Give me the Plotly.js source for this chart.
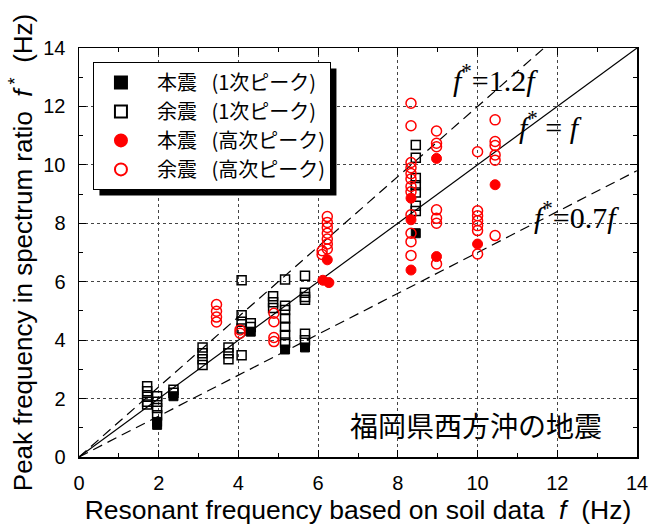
<!DOCTYPE html>
<html>
<head>
<meta charset="utf-8">
<script src="https://cdn.plot.ly/plotly-3.0.1.min.js"></script>
<style>html,body{margin:0;padding:0;background:#fff;}#chart{width:649px;height:530px;}</style>
</head>
<body>
<div id="chart"></div>
<script>
// 本震 (1次ピーク) — filled squares
const mainFirstX = [1.96, 1.96, 2.37, 4.31, 5.17, 5.67, 8.45];
const mainFirstY = [1.10, 1.20, 2.08, 4.29, 3.68, 3.75, 7.66];
// 余震 (1次ピーク) — open squares
const afterFirstX = [1.71, 1.71, 1.71, 1.71, 1.71,
  1.96, 1.96, 1.96, 1.96,
  2.37, 2.37,
  3.10, 3.10, 3.10, 3.10,
  3.75, 3.75, 3.75,
  4.08, 4.08, 4.08, 4.08, 4.08,
  4.31, 4.31,
  4.87, 4.87, 4.87,
  5.17, 5.17, 5.17, 5.17, 5.17, 5.17, 5.17,
  5.67, 5.67, 5.67, 5.67, 5.67, 5.67,
  8.45, 8.45, 8.45, 8.45, 8.45, 8.45, 8.45];
const afterFirstY = [2.42, 2.25, 2.06, 1.89, 1.80,
  2.08, 1.89, 1.68, 1.43,
  2.30, 2.20,
  3.75, 3.55, 3.35, 3.15,
  3.75, 3.55, 3.35,
  6.05, 4.85, 4.63, 4.40, 3.48,
  4.58, 4.45,
  5.50, 5.30, 5.10,
  6.08, 5.18, 5.03, 4.74, 4.46, 4.18, 3.92,
  6.20, 5.62, 5.48, 5.38, 4.22, 4.00,
  10.68, 10.24, 9.55, 9.30, 9.05, 8.60, 8.42];
// 本震 (高次ピーク) — filled circles
const mainHighX = [6.12, 6.27, 6.23, 8.33, 8.33, 8.33, 8.97, 8.97, 10.0, 10.44];
const mainHighY = [6.05, 5.97, 6.75, 8.86, 8.12, 6.40, 10.22, 6.86, 7.29, 9.32];
// 余震 (高次ピーク) — open circles
const afterHighX = [3.45, 3.45, 3.45, 3.45,
  4.04, 4.04,
  4.89, 4.89, 4.89, 4.89,
  6.10, 6.10, 6.23, 6.23, 6.23, 6.23, 6.23, 6.23, 6.23,
  8.33, 8.33, 8.33, 8.33, 8.33, 8.33, 8.33, 8.33, 8.33, 8.33, 8.33, 8.33,
  8.97, 8.97, 8.97, 8.97, 8.97, 8.97, 8.97,
  10.0, 10.0, 10.0, 10.0, 10.0, 10.0, 10.0,
  10.44, 10.44, 10.44, 10.44, 10.44, 10.44];
const afterHighY = [5.22, 4.99, 4.79, 4.62,
  4.35, 4.24,
  4.92, 4.63, 4.09, 3.95,
  7.06, 6.93, 8.23, 8.03, 7.86, 7.66, 7.46, 7.29, 7.12,
  12.11, 11.34, 10.08, 9.90, 9.70, 9.52, 9.26, 9.08, 8.29, 7.66, 7.37, 6.90, 6.61,
  11.16, 10.74, 10.62, 8.46, 8.17, 8.00, 6.95,
  10.45, 8.43, 8.26, 8.09, 7.92, 7.75, 7.58,
  11.54, 10.80, 10.66, 10.34, 10.16, 9.98, 9.82];

const legendNames = ['  本震\u2002 (1次ピーク)', '  余震\u2002 (1次ピーク)', '  本震\u2002 (高次ピーク)', '  余震\u2002 (高次ピーク)'];
const refRatios = [1.2, 1.0, 0.7];
const refX = [0, 14];
const refLabels = ['<i>f</i><sup>*</sup>=1.2<i>f</i>', '<i>f</i><sup>*</sup> = <i>f</i>', '<i>f</i><sup>*</sup>=0.7<i>f</i>'];
const regionLabel = '福岡県西方沖の地震';
const xTickVals = [0, 2, 4, 6, 8, 10, 12, 14];
const yTickVals = [0, 2, 4, 6, 8, 10, 12, 14];

const cjk = '"Noto Sans CJK JP", "Noto Sans", sans-serif';
const serif = '"Liberation Serif", "DejaVu Serif", serif';

const traces = [];
refRatios.forEach((r) => {
  traces.push({
    x: refX, y: refX.map(v => v * r), mode: 'lines', showlegend: false, hoverinfo: 'skip',
    line: {color: '#000', width: 1.2, dash: r === 1 ? 'solid' : '10px,6px'}
  });
});
traces.push({x: mainFirstX, y: mainFirstY, mode: 'markers', name: legendNames[0],
  marker: {symbol: 'square', size: 9, color: '#000', line: {color: '#000', width: 1}}});
traces.push({x: afterFirstX, y: afterFirstY, mode: 'markers', name: legendNames[1],
  marker: {symbol: 'square-open', size: 9, color: '#000', line: {color: '#000', width: 1.5}}});
traces.push({x: mainHighX, y: mainHighY, mode: 'markers', name: legendNames[2],
  marker: {symbol: 'circle', size: 10, color: '#ff0000', line: {color: '#ff0000', width: 1}}});
traces.push({x: afterHighX, y: afterHighY, mode: 'markers', name: legendNames[3],
  marker: {symbol: 'circle-open', size: 10, color: '#ff0000', line: {color: '#ff0000', width: 1.5}}});

const axisCommon = {
  showline: true, linecolor: '#000', linewidth: 1.5, mirror: 'allticks',
  ticks: 'inside', ticklen: 7, tickwidth: 1.2, tickcolor: '#000',
  minor: {dtick: 1, ticks: 'inside', ticklen: 4, tickwidth: 1, tickcolor: '#000', showgrid: false},
  showgrid: true, gridcolor: '#444', gridwidth: 1, griddash: 'dot',
  zeroline: false, tickfont: {size: 20, color: '#000', family: '"Liberation Sans", Arial, sans-serif'},
  fixedrange: true
};

const layout = {
  width: 649, height: 530,
  margin: {l: 79, r: 12, t: 48, b: 73},
  paper_bgcolor: '#fff', plot_bgcolor: '#fff',
  font: {family: '"Liberation Sans", Arial, sans-serif', color: '#000'},
  xaxis: Object.assign({}, axisCommon, {
    range: [0, 14], tickmode: 'array', tickvals: xTickVals, ticklabelstandoff: 7,
    title: {text: 'Resonant frequency based on soil data  <i>f</i>  (Hz)', font: {size: 26.5}, standoff: 8}
  }),
  yaxis: Object.assign({}, axisCommon, {
    range: [0, 14], tickmode: 'array', tickvals: yTickVals, ticklabelstandoff: 8,
    title: {text: 'Peak frequency in spectrum ratio  <i>f</i><sup> *</sup>  (Hz)', font: {size: 26}, standoff: 3}
  }),
  showlegend: true,
  legend: {
    x: 0.025, y: 0.966, xanchor: 'left', yanchor: 'top',
    bgcolor: '#fff', bordercolor: '#000', borderwidth: 1,
    font: {family: cjk, size: 20, color: '#000'}, tracegroupgap: 0, itemsizing: 'constant',
    itemwidth: 44
  },
  annotations: [
    {xref: 'x', yref: 'y', x: 10.46, y: 12.98, text: refLabels[0], showarrow: false, font: {family: serif, size: 30, color: '#000'}},
    {xref: 'x', yref: 'y', x: 11.82, y: 11.37, text: refLabels[1], showarrow: false, font: {family: serif, size: 30, color: '#000'}},
    {xref: 'x', yref: 'y', x: 12.47, y: 8.29, text: refLabels[2], showarrow: false, font: {family: serif, size: 30, color: '#000'}},
    {xref: 'x', yref: 'y', x: 9.96, y: 1.1, text: regionLabel, showarrow: false, font: {family: cjk, size: 28, color: '#000'}}
  ],
  shapes: []
};

Plotly.newPlot('chart', traces, layout, {displayModeBar: false, staticPlot: true}).then(gd => {
  const bg = gd.querySelector('.legend .bg');
  if (!bg) return;
  const box = bg.getBoundingClientRect();
  const pr = gd.getBoundingClientRect();
  const fs = gd._fullLayout._size;
  const toPX = px => (px - pr.left - fs.l) / fs.w;
  const toPY = py => 1 - (py - pr.top - fs.t) / fs.h;
  const off = 6;
  Plotly.relayout(gd, {shapes: [{
    type: 'rect', xref: 'paper', yref: 'paper',
    x0: toPX(box.left + off), x1: toPX(box.right + off),
    y0: toPY(box.bottom + off), y1: toPY(box.top + off),
    fillcolor: '#000', line: {width: 0}, layer: 'above'
  }]});
});
</script>
</body>
</html>
